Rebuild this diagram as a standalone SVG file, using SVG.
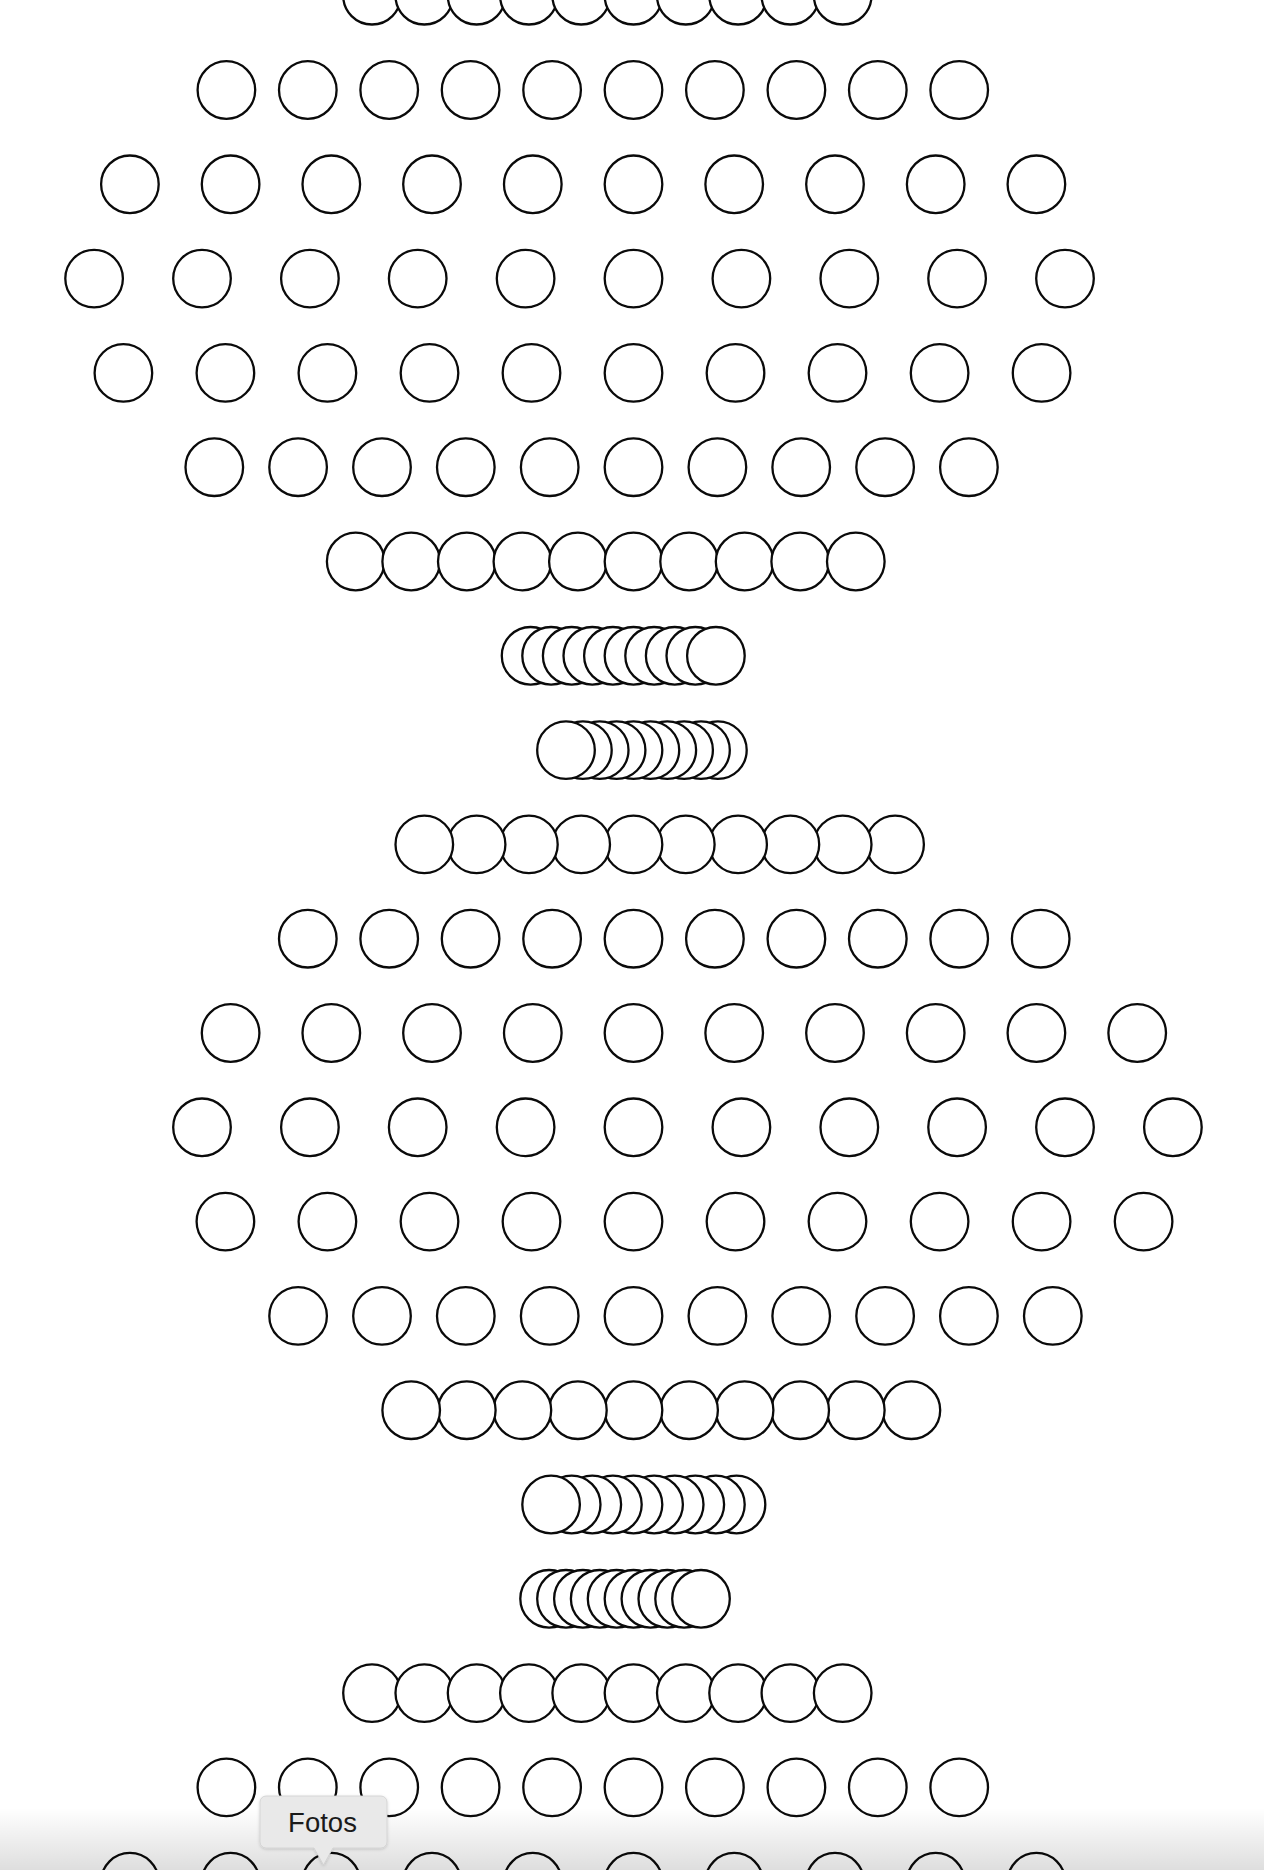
<svg xmlns="http://www.w3.org/2000/svg" width="1264" height="1870" viewBox="0 0 1264 1870">
<style>
.c{fill:#fff;stroke:#0a0a0a;stroke-width:2.3}
.tip{fill:#e9e9e9;stroke:#cfcfcf;stroke-width:0.8}
.tt{font-family:"Liberation Sans","Noto Sans",Arial,sans-serif;font-size:27.5px;fill:#1a1a1a}
</style>
<defs>
<linearGradient id="fade" x1="0" y1="0" x2="0" y2="1">
<stop offset="0" stop-color="#000" stop-opacity="0"/>
<stop offset="1" stop-color="#000" stop-opacity="0.13"/>
</linearGradient>
<filter id="sh" x="-20%" y="-20%" width="140%" height="160%">
<feDropShadow dx="0" dy="1" stdDeviation="1.5" flood-color="#000" flood-opacity="0.18"/>
</filter>
</defs>
<rect width="1264" height="1870" fill="#fff"/>
<g id="row0"><circle class="c" cx="372" cy="-4.3" r="28.8"/><circle class="c" cx="424.3" cy="-4.3" r="28.8"/><circle class="c" cx="476.6" cy="-4.3" r="28.8"/><circle class="c" cx="528.9" cy="-4.3" r="28.8"/><circle class="c" cx="581.2" cy="-4.3" r="28.8"/><circle class="c" cx="633.5" cy="-4.3" r="28.8"/><circle class="c" cx="685.8" cy="-4.3" r="28.8"/><circle class="c" cx="738.1" cy="-4.3" r="28.8"/><circle class="c" cx="790.4" cy="-4.3" r="28.8"/><circle class="c" cx="842.7" cy="-4.3" r="28.8"/></g>
<g id="row1"><circle class="c" cx="226.4" cy="90" r="28.8"/><circle class="c" cx="307.8" cy="90" r="28.8"/><circle class="c" cx="389.2" cy="90" r="28.8"/><circle class="c" cx="470.6" cy="90" r="28.8"/><circle class="c" cx="552.1" cy="90" r="28.8"/><circle class="c" cx="633.5" cy="90" r="28.8"/><circle class="c" cx="714.9" cy="90" r="28.8"/><circle class="c" cx="796.4" cy="90" r="28.8"/><circle class="c" cx="877.8" cy="90" r="28.8"/><circle class="c" cx="959.2" cy="90" r="28.8"/></g>
<g id="row2"><circle class="c" cx="129.9" cy="184.3" r="28.8"/><circle class="c" cx="230.6" cy="184.3" r="28.8"/><circle class="c" cx="331.3" cy="184.3" r="28.8"/><circle class="c" cx="432" cy="184.3" r="28.8"/><circle class="c" cx="532.8" cy="184.3" r="28.8"/><circle class="c" cx="633.5" cy="184.3" r="28.8"/><circle class="c" cx="734.2" cy="184.3" r="28.8"/><circle class="c" cx="835" cy="184.3" r="28.8"/><circle class="c" cx="935.7" cy="184.3" r="28.8"/><circle class="c" cx="1036.4" cy="184.3" r="28.8"/></g>
<g id="row3"><circle class="c" cx="94.1" cy="278.6" r="28.8"/><circle class="c" cx="202" cy="278.6" r="28.8"/><circle class="c" cx="309.9" cy="278.6" r="28.8"/><circle class="c" cx="417.7" cy="278.6" r="28.8"/><circle class="c" cx="525.6" cy="278.6" r="28.8"/><circle class="c" cx="633.5" cy="278.6" r="28.8"/><circle class="c" cx="741.4" cy="278.6" r="28.8"/><circle class="c" cx="849.3" cy="278.6" r="28.8"/><circle class="c" cx="957.1" cy="278.6" r="28.8"/><circle class="c" cx="1065" cy="278.6" r="28.8"/></g>
<g id="row4"><circle class="c" cx="123.4" cy="372.9" r="28.8"/><circle class="c" cx="225.4" cy="372.9" r="28.8"/><circle class="c" cx="327.4" cy="372.9" r="28.8"/><circle class="c" cx="429.5" cy="372.9" r="28.8"/><circle class="c" cx="531.5" cy="372.9" r="28.8"/><circle class="c" cx="633.5" cy="372.9" r="28.8"/><circle class="c" cx="735.5" cy="372.9" r="28.8"/><circle class="c" cx="837.5" cy="372.9" r="28.8"/><circle class="c" cx="939.6" cy="372.9" r="28.8"/><circle class="c" cx="1041.6" cy="372.9" r="28.8"/></g>
<g id="row5"><circle class="c" cx="214.3" cy="467.2" r="28.8"/><circle class="c" cx="298.1" cy="467.2" r="28.8"/><circle class="c" cx="382" cy="467.2" r="28.8"/><circle class="c" cx="465.8" cy="467.2" r="28.8"/><circle class="c" cx="549.7" cy="467.2" r="28.8"/><circle class="c" cx="633.5" cy="467.2" r="28.8"/><circle class="c" cx="717.4" cy="467.2" r="28.8"/><circle class="c" cx="801.2" cy="467.2" r="28.8"/><circle class="c" cx="885.1" cy="467.2" r="28.8"/><circle class="c" cx="968.9" cy="467.2" r="28.8"/></g>
<g id="row6"><circle class="c" cx="355.7" cy="561.5" r="28.8"/><circle class="c" cx="411.2" cy="561.5" r="28.8"/><circle class="c" cx="466.8" cy="561.5" r="28.8"/><circle class="c" cx="522.4" cy="561.5" r="28.8"/><circle class="c" cx="577.9" cy="561.5" r="28.8"/><circle class="c" cx="633.5" cy="561.5" r="28.8"/><circle class="c" cx="689.1" cy="561.5" r="28.8"/><circle class="c" cx="744.6" cy="561.5" r="28.8"/><circle class="c" cx="800.2" cy="561.5" r="28.8"/><circle class="c" cx="855.8" cy="561.5" r="28.8"/></g>
<g id="row7"><circle class="c" cx="530.6" cy="655.8" r="28.8"/><circle class="c" cx="551.1" cy="655.8" r="28.8"/><circle class="c" cx="571.7" cy="655.8" r="28.8"/><circle class="c" cx="592.3" cy="655.8" r="28.8"/><circle class="c" cx="612.9" cy="655.8" r="28.8"/><circle class="c" cx="633.5" cy="655.8" r="28.8"/><circle class="c" cx="654.1" cy="655.8" r="28.8"/><circle class="c" cx="674.7" cy="655.8" r="28.8"/><circle class="c" cx="695.3" cy="655.8" r="28.8"/><circle class="c" cx="715.9" cy="655.8" r="28.8"/></g>
<g id="row8"><circle class="c" cx="717.9" cy="750.1" r="28.8"/><circle class="c" cx="701" cy="750.1" r="28.8"/><circle class="c" cx="684.1" cy="750.1" r="28.8"/><circle class="c" cx="667.3" cy="750.1" r="28.8"/><circle class="c" cx="650.4" cy="750.1" r="28.8"/><circle class="c" cx="633.5" cy="750.1" r="28.8"/><circle class="c" cx="616.6" cy="750.1" r="28.8"/><circle class="c" cx="599.7" cy="750.1" r="28.8"/><circle class="c" cx="582.9" cy="750.1" r="28.8"/><circle class="c" cx="566" cy="750.1" r="28.8"/></g>
<g id="row9"><circle class="c" cx="895.1" cy="844.4" r="28.8"/><circle class="c" cx="842.7" cy="844.4" r="28.8"/><circle class="c" cx="790.4" cy="844.4" r="28.8"/><circle class="c" cx="738.1" cy="844.4" r="28.8"/><circle class="c" cx="685.8" cy="844.4" r="28.8"/><circle class="c" cx="633.5" cy="844.4" r="28.8"/><circle class="c" cx="581.2" cy="844.4" r="28.8"/><circle class="c" cx="528.9" cy="844.4" r="28.8"/><circle class="c" cx="476.6" cy="844.4" r="28.8"/><circle class="c" cx="424.3" cy="844.4" r="28.8"/></g>
<g id="row10"><circle class="c" cx="1040.7" cy="938.7" r="28.8"/><circle class="c" cx="959.2" cy="938.7" r="28.8"/><circle class="c" cx="877.8" cy="938.7" r="28.8"/><circle class="c" cx="796.4" cy="938.7" r="28.8"/><circle class="c" cx="714.9" cy="938.7" r="28.8"/><circle class="c" cx="633.5" cy="938.7" r="28.8"/><circle class="c" cx="552.1" cy="938.7" r="28.8"/><circle class="c" cx="470.6" cy="938.7" r="28.8"/><circle class="c" cx="389.2" cy="938.7" r="28.8"/><circle class="c" cx="307.8" cy="938.7" r="28.8"/></g>
<g id="row11"><circle class="c" cx="1137.2" cy="1033" r="28.8"/><circle class="c" cx="1036.4" cy="1033" r="28.8"/><circle class="c" cx="935.7" cy="1033" r="28.8"/><circle class="c" cx="835" cy="1033" r="28.8"/><circle class="c" cx="734.2" cy="1033" r="28.8"/><circle class="c" cx="633.5" cy="1033" r="28.8"/><circle class="c" cx="532.8" cy="1033" r="28.8"/><circle class="c" cx="432" cy="1033" r="28.8"/><circle class="c" cx="331.3" cy="1033" r="28.8"/><circle class="c" cx="230.6" cy="1033" r="28.8"/></g>
<g id="row12"><circle class="c" cx="1172.9" cy="1127.3" r="28.8"/><circle class="c" cx="1065" cy="1127.3" r="28.8"/><circle class="c" cx="957.1" cy="1127.3" r="28.8"/><circle class="c" cx="849.3" cy="1127.3" r="28.8"/><circle class="c" cx="741.4" cy="1127.3" r="28.8"/><circle class="c" cx="633.5" cy="1127.3" r="28.8"/><circle class="c" cx="525.6" cy="1127.3" r="28.8"/><circle class="c" cx="417.7" cy="1127.3" r="28.8"/><circle class="c" cx="309.9" cy="1127.3" r="28.8"/><circle class="c" cx="202" cy="1127.3" r="28.8"/></g>
<g id="row13"><circle class="c" cx="1143.6" cy="1221.6" r="28.8"/><circle class="c" cx="1041.6" cy="1221.6" r="28.8"/><circle class="c" cx="939.6" cy="1221.6" r="28.8"/><circle class="c" cx="837.5" cy="1221.6" r="28.8"/><circle class="c" cx="735.5" cy="1221.6" r="28.8"/><circle class="c" cx="633.5" cy="1221.6" r="28.8"/><circle class="c" cx="531.5" cy="1221.6" r="28.8"/><circle class="c" cx="429.5" cy="1221.6" r="28.8"/><circle class="c" cx="327.4" cy="1221.6" r="28.8"/><circle class="c" cx="225.4" cy="1221.6" r="28.8"/></g>
<g id="row14"><circle class="c" cx="1052.8" cy="1315.9" r="28.8"/><circle class="c" cx="968.9" cy="1315.9" r="28.8"/><circle class="c" cx="885.1" cy="1315.9" r="28.8"/><circle class="c" cx="801.2" cy="1315.9" r="28.8"/><circle class="c" cx="717.4" cy="1315.9" r="28.8"/><circle class="c" cx="633.5" cy="1315.9" r="28.8"/><circle class="c" cx="549.7" cy="1315.9" r="28.8"/><circle class="c" cx="465.8" cy="1315.9" r="28.8"/><circle class="c" cx="382" cy="1315.9" r="28.8"/><circle class="c" cx="298.1" cy="1315.9" r="28.8"/></g>
<g id="row15"><circle class="c" cx="911.4" cy="1410.2" r="28.8"/><circle class="c" cx="855.8" cy="1410.2" r="28.8"/><circle class="c" cx="800.2" cy="1410.2" r="28.8"/><circle class="c" cx="744.6" cy="1410.2" r="28.8"/><circle class="c" cx="689.1" cy="1410.2" r="28.8"/><circle class="c" cx="633.5" cy="1410.2" r="28.8"/><circle class="c" cx="577.9" cy="1410.2" r="28.8"/><circle class="c" cx="522.4" cy="1410.2" r="28.8"/><circle class="c" cx="466.8" cy="1410.2" r="28.8"/><circle class="c" cx="411.2" cy="1410.2" r="28.8"/></g>
<g id="row16"><circle class="c" cx="736.5" cy="1504.5" r="28.8"/><circle class="c" cx="715.9" cy="1504.5" r="28.8"/><circle class="c" cx="695.3" cy="1504.5" r="28.8"/><circle class="c" cx="674.7" cy="1504.5" r="28.8"/><circle class="c" cx="654.1" cy="1504.5" r="28.8"/><circle class="c" cx="633.5" cy="1504.5" r="28.8"/><circle class="c" cx="612.9" cy="1504.5" r="28.8"/><circle class="c" cx="592.3" cy="1504.5" r="28.8"/><circle class="c" cx="571.7" cy="1504.5" r="28.8"/><circle class="c" cx="551.1" cy="1504.5" r="28.8"/></g>
<g id="row17"><circle class="c" cx="549.1" cy="1598.8" r="28.8"/><circle class="c" cx="566" cy="1598.8" r="28.8"/><circle class="c" cx="582.9" cy="1598.8" r="28.8"/><circle class="c" cx="599.7" cy="1598.8" r="28.8"/><circle class="c" cx="616.6" cy="1598.8" r="28.8"/><circle class="c" cx="633.5" cy="1598.8" r="28.8"/><circle class="c" cx="650.4" cy="1598.8" r="28.8"/><circle class="c" cx="667.3" cy="1598.8" r="28.8"/><circle class="c" cx="684.1" cy="1598.8" r="28.8"/><circle class="c" cx="701" cy="1598.8" r="28.8"/></g>
<g id="row18"><circle class="c" cx="372" cy="1693.1" r="28.8"/><circle class="c" cx="424.3" cy="1693.1" r="28.8"/><circle class="c" cx="476.6" cy="1693.1" r="28.8"/><circle class="c" cx="528.9" cy="1693.1" r="28.8"/><circle class="c" cx="581.2" cy="1693.1" r="28.8"/><circle class="c" cx="633.5" cy="1693.1" r="28.8"/><circle class="c" cx="685.8" cy="1693.1" r="28.8"/><circle class="c" cx="738.1" cy="1693.1" r="28.8"/><circle class="c" cx="790.4" cy="1693.1" r="28.8"/><circle class="c" cx="842.7" cy="1693.1" r="28.8"/></g>
<g id="row19"><circle class="c" cx="226.4" cy="1787.4" r="28.8"/><circle class="c" cx="307.8" cy="1787.4" r="28.8"/><circle class="c" cx="389.2" cy="1787.4" r="28.8"/><circle class="c" cx="470.6" cy="1787.4" r="28.8"/><circle class="c" cx="552.1" cy="1787.4" r="28.8"/><circle class="c" cx="633.5" cy="1787.4" r="28.8"/><circle class="c" cx="714.9" cy="1787.4" r="28.8"/><circle class="c" cx="796.4" cy="1787.4" r="28.8"/><circle class="c" cx="877.8" cy="1787.4" r="28.8"/><circle class="c" cx="959.2" cy="1787.4" r="28.8"/></g>
<g id="row20"><circle class="c" cx="129.9" cy="1881.7" r="28.8"/><circle class="c" cx="230.6" cy="1881.7" r="28.8"/><circle class="c" cx="331.3" cy="1881.7" r="28.8"/><circle class="c" cx="432" cy="1881.7" r="28.8"/><circle class="c" cx="532.8" cy="1881.7" r="28.8"/><circle class="c" cx="633.5" cy="1881.7" r="28.8"/><circle class="c" cx="734.2" cy="1881.7" r="28.8"/><circle class="c" cx="835" cy="1881.7" r="28.8"/><circle class="c" cx="935.7" cy="1881.7" r="28.8"/><circle class="c" cx="1036.4" cy="1881.7" r="28.8"/></g>
<rect id="bottom-fade" x="0" y="1808" width="1264" height="62" fill="url(#fade)"/>
<g id="tooltip">
<path class="tip" filter="url(#sh)" d="M266,1796 H381 A6,6 0 0 1 387,1802 V1842 A6,6 0 0 1 381,1848 H333 L323.5,1865 L314,1848 H266 A6,6 0 0 1 260,1842 V1802 A6,6 0 0 1 266,1796 Z"/>
<text class="tt" x="322.5" y="1831.5" text-anchor="middle">Fotos</text>
</g>
</svg>
